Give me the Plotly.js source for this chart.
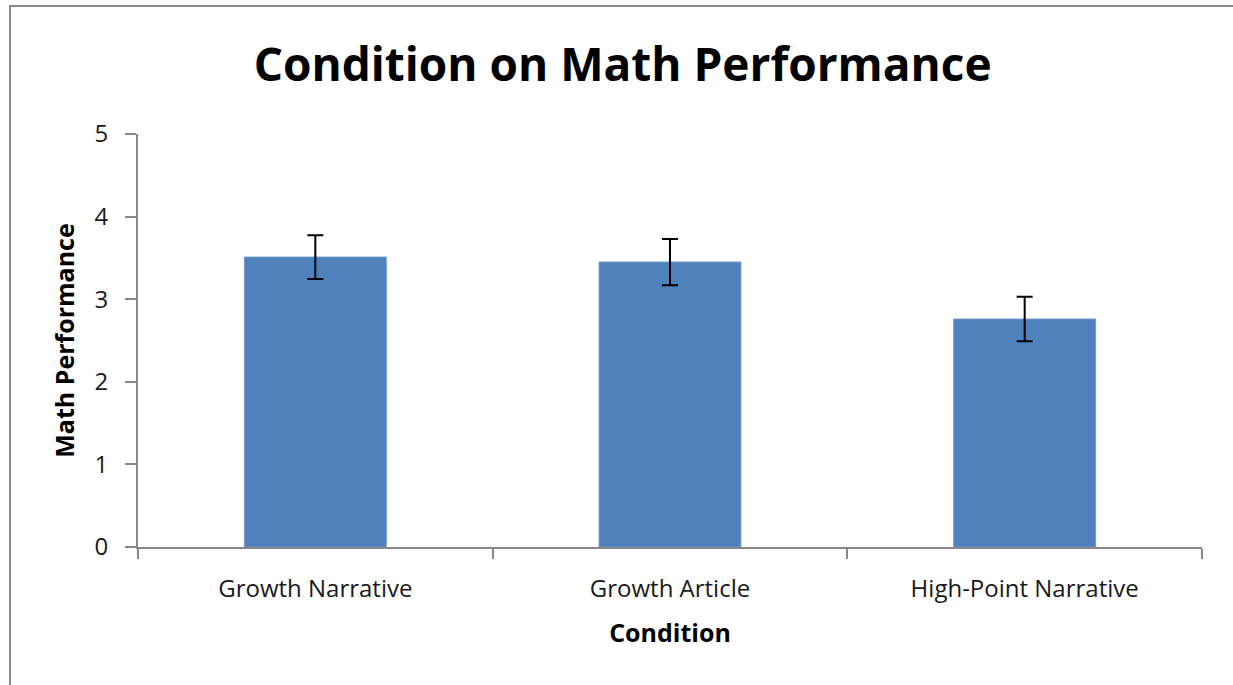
<!DOCTYPE html>
<html>
<head>
<meta charset="utf-8">
<script src="https://cdn.plot.ly/plotly-3.0.1.min.js"></script>
<style>
  html, body { margin: 0; padding: 0; background: #fff; }
  #wrap { position: relative; width: 1233px; height: 685px; overflow: hidden; }
  #chart { width: 1233px; height: 685px; }
  #frame { position: absolute; left: 9px; top: 5px; width: 1300px; height: 800px;
           border-left: 2px solid #8a8a8a; border-top: 2px solid #8a8a8a; pointer-events: none; }
</style>
</head>
<body>
<div id="wrap">
  <div id="chart"></div>
  <div id="frame"></div>
</div>
<script>
const categories = ["Growth Narrative", "Growth Article", "High-Point Narrative"];
const meanScores = [3.51, 3.45, 2.76];
const errorValues = [0.265, 0.28, 0.27];
const yTickValues = [0, 1, 2, 3, 4, 5];
const yTickLabels = ["0", "1", "2", "3", "4", "5"];

const FONT = "Open Sans, Noto Sans, sans-serif";

const trace = {
  type: "bar",
  x: categories,
  y: meanScores,
  width: 0.4,
  marker: { color: "#4F81BD", line: { color: "#6f97c9", width: 1 } },
  error_y: { type: "data", array: errorValues, visible: true, color: "#000000", thickness: 2, width: 8 },
  hoverinfo: "x+y"
};

const layout = {
  width: 1233,
  height: 685,
  margin: { l: 138, r: 31, t: 134, b: 138 },
  paper_bgcolor: "#ffffff",
  plot_bgcolor: "#ffffff",
  showlegend: false,
  title: {
    text: "<b>Condition on Math Performance</b>",
    font: { family: FONT, size: 46, color: "#000000" },
    x: 0.505, xanchor: "center",
    y: 0.905, yanchor: "middle"
  },
  xaxis: {
    type: "category",
    showline: true, linecolor: "#878787", linewidth: 2,
    ticks: "outside", tickson: "boundaries", ticklen: 10, tickcolor: "#878787", tickwidth: 2,
    showgrid: false, zeroline: false,
    tickfont: { family: FONT, size: 24, color: "#1a1a1a" },
    ticklabelstandoff: 19,
    title: { text: "<b>Condition</b>", font: { family: FONT, size: 25, color: "#000000" }, standoff: 22 }
  },
  yaxis: {
    range: [0, 5],
    tickvals: yTickValues,
    ticktext: yTickLabels,
    showline: true, linecolor: "#878787", linewidth: 2,
    ticks: "outside", ticklen: 11, tickcolor: "#878787", tickwidth: 2,
    showgrid: false, zeroline: false,
    tickfont: { family: FONT, size: 24, color: "#1a1a1a" },
    ticklabelstandoff: 12,
    title: { text: "<b>Math Performance</b>", font: { family: FONT, size: 25, color: "#000000" }, standoff: 13 }
  }
};

Plotly.newPlot("chart", [trace], layout, { displayModeBar: false, staticPlot: false });
</script>
</body>
</html>
